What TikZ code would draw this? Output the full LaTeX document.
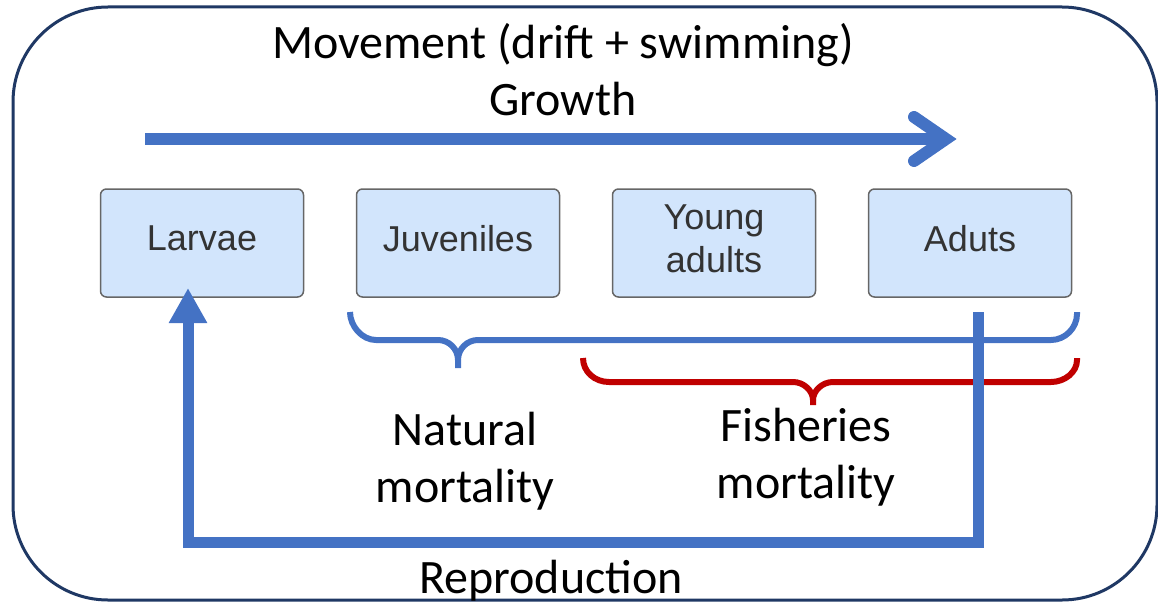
\documentclass[tikz,border=0pt]{standalone}
\usepackage{fontspec}
\setmainfont{Carlito}
\newfontfamily\boxfont{Liberation Sans}
\usetikzlibrary{arrows.meta}
\definecolor{framecol}{HTML}{1F3864}
\definecolor{oblue}{HTML}{4472C4}
\definecolor{ored}{HTML}{C00000}
\definecolor{boxfill}{HTML}{D2E5FC}
\definecolor{boxline}{HTML}{666666}
\definecolor{boxtext}{HTML}{333333}
\newcommand\liftstrut{\rule[-9pt]{0pt}{9pt}}
\begin{document}
\begin{tikzpicture}[x=1pt,y=-1pt,
  stage/.style={draw=boxline, line width=1.5pt, fill=boxfill, rounded corners=6pt,
    minimum width=203pt, minimum height=108pt, inner sep=0pt, align=center,
    text=boxtext, font=\boxfont\fontsize{36}{43}\selectfont},
  lbl/.style={inner sep=0pt, align=center, text=black, font=\fontsize{48}{57}\selectfont},
  bracestyle/.style={line width=6pt, line cap=butt},
  flow/.style={draw=oblue, line width=11pt}
]
\useasboundingbox (0,0) rectangle (1158,602);
\draw[framecol, line width=3pt, rounded corners=95pt] (13,7) rectangle (1157,600);

% titles
\node[lbl, anchor=base] (move) at (563,59) {Movement (drift + swimming)};
\node[lbl, anchor=base] (growth) at (563,115) {Growth};

% growth arrow
\coordinate (gs) at (145,139);
\coordinate (ge) at (942,139);
\coordinate (ga) at (914,117);
\coordinate (gt) at (946,139);
\coordinate (gb) at (914,161);
\draw[oblue, line width=12pt] (gs) -- (ge);
\draw[oblue, line width=12pt, line cap=round, line join=miter, miter limit=10] (ga) -- (gt) -- (gb);

% stages
\node[stage] (larvae) at (202,243) {Larvae\liftstrut};
\node[stage] (juv) at (458,243) {Juveniles\liftstrut};
\node[stage] (young) at (714,243) {Young\\adults\liftstrut};
\node[stage] (adults) at (970,243) {Aduts\liftstrut};

% braces
\draw[bracestyle, oblue] (350,312) .. controls (350,326) and (362,340) .. (376,340)
  -- (438,340) .. controls (449,340) and (458,349) .. (458,360) -- (458,368);
\draw[bracestyle, oblue] (458,360) .. controls (458,349) and (467,340) .. (478,340)
  -- (1051,340) .. controls (1065,340) and (1077,328) .. (1077,314) -- (1077,312);
\draw[bracestyle, ored] (583,358) .. controls (583,372) and (595,382) .. (609,382)
  -- (793,382) .. controls (804,382) and (813,391) .. (813,400) -- (813,405);
\draw[bracestyle, ored] (813,400) .. controls (813,391) and (822,382) .. (833,382)
  -- (1051,382) .. controls (1065,382) and (1077,372) .. (1077,360) -- (1077,358);

% mortality labels
\node[lbl] (nat) at (465,461) {Natural\\mortality};
\node[lbl] (fish) at (806,457) {Fisheries\\mortality};

% reproduction loop
\coordinate (rs) at (978,312);
\coordinate (rc1) at (978,542);
\coordinate (rc2) at (188,542);
\coordinate (re) at (188,288);
\draw[flow, line join=miter, -{Triangle[length=35pt,width=36pt]}]
  (rs) -- (rc1) -- (rc2) -- (re);
\node[lbl, anchor=base] (repro) at (551,593) {Reproduction};
\end{tikzpicture}
\end{document}
